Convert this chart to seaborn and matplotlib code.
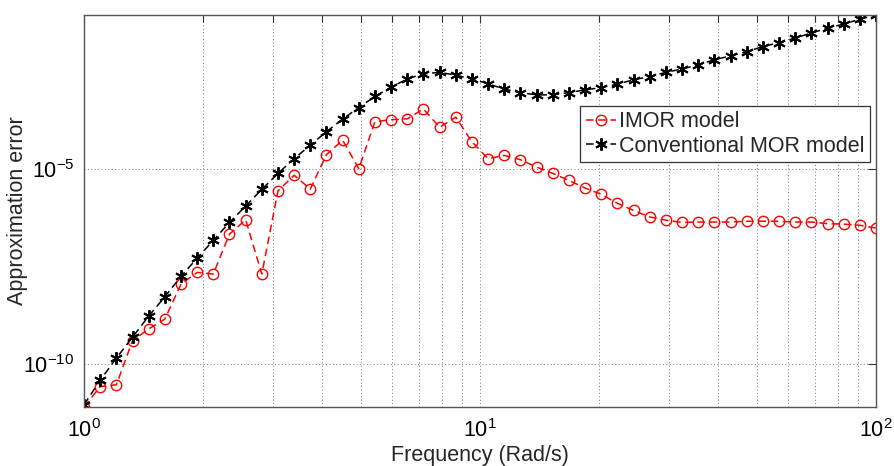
import numpy as np
import pandas as pd
import matplotlib
matplotlib.use("Agg")
import matplotlib.pyplot as plt
import seaborn as sns
from matplotlib.ticker import LogLocator, FixedLocator, NullLocator, LogFormatterSciNotation

# Frequency grid (rad/s), 50 log-spaced samples from 1 to 100
frequency = [1.000, 1.099, 1.207, 1.326, 1.456, 1.600, 1.758, 1.931, 2.121, 2.330,
             2.560, 2.812, 3.089, 3.393, 3.728, 4.095, 4.498, 4.942, 5.429, 5.964,
             6.551, 7.197, 7.906, 8.685, 9.541, 10.48, 11.51, 12.65, 13.90, 15.26,
             16.77, 18.42, 20.24, 22.23, 24.42, 26.83, 29.47, 32.38, 35.56, 39.07,
             42.92, 47.15, 51.79, 56.90, 62.51, 68.66, 75.43, 82.86, 91.03, 100.0]

# Approximation error of the IMOR model
imor_error = [7.8e-12, 2.6e-11, 2.9e-11, 3.9e-10, 7.8e-10, 1.4e-9, 1.1e-8, 2.2e-8, 2.0e-8, 2.1e-7,
              4.9e-7, 2.0e-8, 2.7e-6, 6.8e-6, 3.0e-6, 2.3e-5, 5.4e-5, 1.0e-5, 1.6e-4, 1.8e-4,
              1.9e-4, 3.4e-4, 1.15e-4, 2.1e-4, 4.9e-5, 1.8e-5, 2.2e-5, 1.7e-5, 1.1e-5, 7.6e-6,
              5.0e-6, 3.2e-6, 2.2e-6, 1.3e-6, 8.5e-7, 5.8e-7, 4.8e-7, 4.2e-7, 4.3e-7, 4.3e-7,
              4.3e-7, 4.5e-7, 4.5e-7, 4.5e-7, 4.3e-7, 4.3e-7, 3.9e-7, 3.8e-7, 3.55e-7, 3.0e-7]

# Approximation error of the conventional MOR model
conv_error = [8.9e-12, 3.8e-11, 1.4e-10, 4.8e-10, 1.66e-9, 5.2e-9, 1.74e-8, 5.1e-8, 1.45e-7, 4.2e-7,
              1.1e-6, 2.95e-6, 7.6e-6, 1.8e-5, 4.0e-5, 8.9e-5, 1.86e-4, 3.7e-4, 7.1e-4, 1.23e-3,
              2.0e-3, 2.7e-3, 2.95e-3, 2.5e-3, 2.0e-3, 1.5e-3, 1.1e-3, 8.9e-4, 7.8e-4, 7.8e-4,
              8.9e-4, 1.05e-3, 1.2e-3, 1.48e-3, 1.9e-3, 2.3e-3, 2.95e-3, 3.6e-3, 4.6e-3, 6.2e-3,
              7.8e-3, 1.0e-2, 1.35e-2, 1.7e-2, 2.24e-2, 3.0e-2, 4.0e-2, 5.1e-2, 6.8e-2, 8.7e-2]

series_labels = ["IMOR model", "Conventional MOR model"]
y_ticks = [1e-10, 1e-5]

sns.set_theme(style="white")
plt.rcParams["font.family"] = ["Liberation Sans", "DejaVu Sans"]
plt.rcParams["mathtext.fontset"] = "custom"
plt.rcParams["mathtext.rm"] = "Liberation Sans"
plt.rcParams["mathtext.it"] = "Liberation Sans:italic"
plt.rcParams["axes.unicode_minus"] = False

df = pd.DataFrame({"freq": frequency, "imor": imor_error, "conv": conv_error})

fig = plt.figure(figsize=(8.94, 4.66), dpi=100)
ax = fig.add_axes([84 / 894, 1 - 407 / 466, (876 - 84) / 894, (407 - 15) / 466])
ax.set_xscale("log")
ax.set_yscale("log")

sns.lineplot(data=df, x="freq", y="imor", ax=ax, color="#ff0000", linestyle=(0, (5, 3)),
             linewidth=1.1, marker="o", markersize=7.5, markerfacecolor="none",
             markeredgecolor="#ff0000", markeredgewidth=1.0, label=series_labels[0])
sns.lineplot(data=df, x="freq", y="conv", ax=ax, color="black", linestyle=(0, (5, 3)),
             linewidth=1.1, marker=(6, 2, 0), markersize=9, markerfacecolor="black",
             markeredgecolor="black", markeredgewidth=1.4, label=series_labels[1])

ax.set_xlim(min(frequency), max(frequency))
ax.set_ylim(min(min(imor_error), min(conv_error)), max(max(imor_error), max(conv_error)))

ax.xaxis.set_major_locator(LogLocator(base=10, numticks=10))
ax.xaxis.set_minor_locator(LogLocator(base=10, subs=np.arange(2, 10), numticks=20))
ax.yaxis.set_major_locator(FixedLocator(y_ticks))
ax.yaxis.set_major_formatter(LogFormatterSciNotation())
ax.yaxis.set_minor_locator(NullLocator())

ax.grid(True, which="major", axis="both", color="#777777", linestyle=(0, (1, 2.5)), linewidth=0.7)
ax.grid(True, which="minor", axis="x", color="#777777", linestyle=(0, (1, 2.5)), linewidth=0.7)

ax.tick_params(which="both", direction="in", top=True, right=True, colors="#333333",
               labelcolor="black", labelsize=15.5)
ax.tick_params(axis="x", which="major", length=6, width=0.8, pad=9)
ax.tick_params(axis="y", which="major", length=6, width=0.8, pad=7)
ax.tick_params(which="minor", length=5, width=0.8)

for s in ax.spines.values():
    s.set_color("#555555")
    s.set_linewidth(1.0)

ax.set_xlabel("Frequency (Rad/s)", fontsize=15.5)
ax.xaxis.set_label_coords(0.5, -0.097)
ax.set_ylabel("Approximation error", fontsize=15.5)
ax.yaxis.set_label_coords(-0.071, 0.5)

leg = ax.legend(loc="upper right", bbox_to_anchor=(0.9924, 0.768), fontsize=15.5,
                frameon=True, fancybox=False, framealpha=1, edgecolor="#333333",
                borderaxespad=0, handlelength=1.4, handletextpad=0.15,
                labelspacing=0.15, borderpad=0.25)
leg.get_frame().set_linewidth(0.9)

fig.savefig("out.png", dpi=100)
